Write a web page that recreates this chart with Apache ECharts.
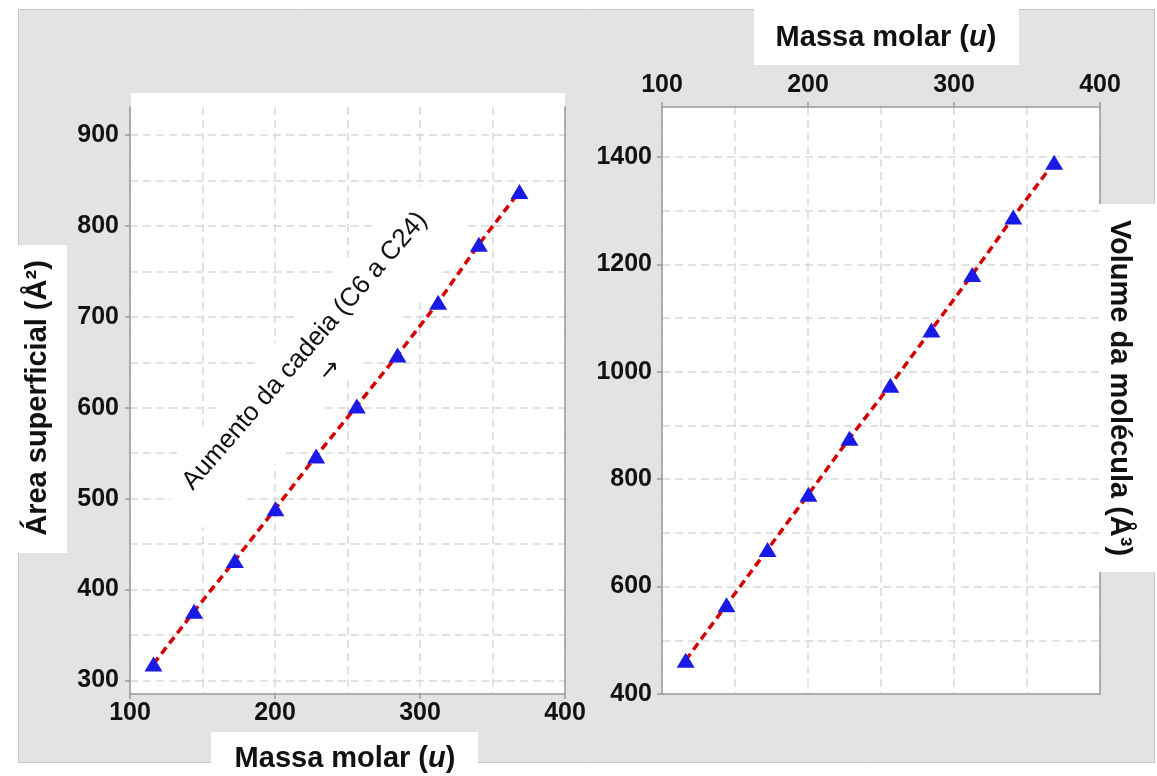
<!DOCTYPE html>
<html>
<head>
<meta charset="utf-8">
<script src="https://cdn.jsdelivr.net/npm/echarts@6/dist/echarts.min.js"></script>
<style>
  html, body { margin: 0; padding: 0; background: #ffffff; }
  #chart { width: 1157px; height: 776px; }
</style>
</head>
<body>
<div id="chart"></div>
<script>
// ---- data ----
const massaMolar = [116.2, 144.2, 172.3, 200.3, 228.4, 256.4, 284.5, 312.5, 340.6, 368.6];
const areaSuperficial = [318, 376, 432, 489, 547, 602, 658, 716, 780, 838];
const volumeMolecula = [463, 566, 669, 772, 876, 975, 1078, 1181, 1288, 1390];

// ---- tick labels / grid values ----
const massaTicks = [100, 200, 300, 400];
const areaTicks = [300, 400, 500, 600, 700, 800, 900];
const areaGrid = [300, 350, 400, 450, 500, 550, 600, 650, 700, 750, 800, 850, 900];
const volumeTicks = [400, 600, 800, 1000, 1200, 1400];
const volumeGrid = [500, 600, 700, 800, 900, 1000, 1100, 1200, 1300, 1400];

const FONT = "'Liberation Sans', Arial, sans-serif";
const TXT = '#111111';
const AXIS = '#9a9a9a';
const GRID = '#d9d9d9';
const RED = '#d40000';
const BLUE = '#1a1ae6';

const plain = v => String(v);
const labelStyle = { fontFamily: FONT, fontWeight: 'bold', fontSize: 25, color: TXT, formatter: plain };
const gridLine = { show: true, lineStyle: { color: GRID, width: 1.5, type: [8, 5] } };
const axisLine = { show: true, onZero: false, lineStyle: { color: AXIS, width: 1.5 } };

const ptsArea = massaMolar.map((m, i) => [m, areaSuperficial[i]]);
const ptsVol = massaMolar.map((m, i) => [m, volumeMolecula[i]]);

const chart = echarts.init(document.getElementById('chart'), null, { renderer: 'canvas' });

const option = {
  backgroundColor: '#ffffff',
  animation: false,
  grid: [
    { left: 130, top: 107, width: 435, height: 587, outerBoundsMode: 'none', containLabel: false },
    { left: 662, top: 107, width: 438, height: 587, outerBoundsMode: 'none', containLabel: false }
  ],
  xAxis: [
    { // left panel, bottom
      gridIndex: 0, type: 'value', position: 'bottom', min: massaTicks[0], max: massaTicks[massaTicks.length - 1], interval: 100,
      axisLine: axisLine,
      axisTick: { show: true, length: 5, lineStyle: { color: AXIS, width: 1.5 } },
      axisLabel: Object.assign({ margin: 7 }, labelStyle),
      splitLine: gridLine,
      minorTick: { show: false, splitNumber: 2 },
      minorSplitLine: gridLine
    },
    { // right panel, top
      gridIndex: 1, type: 'value', position: 'top', min: massaTicks[0], max: massaTicks[massaTicks.length - 1], interval: 100,
      axisLine: axisLine,
      axisTick: { show: true, length: 5, lineStyle: { color: AXIS, width: 1.5 } },
      axisLabel: Object.assign({ margin: 9 }, labelStyle),
      splitLine: gridLine,
      minorTick: { show: false, splitNumber: 2 },
      minorSplitLine: gridLine
    },
    { // right panel, bottom border
      gridIndex: 1, type: 'value', position: 'bottom', min: 100, max: 400,
      axisLine: axisLine, axisTick: { show: false }, axisLabel: { show: false }, splitLine: { show: false }
    }
  ],
  yAxis: [
    { // 0: left panel labels
      gridIndex: 0, type: 'value', position: 'left', min: 285, max: 931,
      axisLine: axisLine,
      axisTick: { show: true, length: 5, customValues: areaTicks, lineStyle: { color: AXIS, width: 1.5 } },
      axisLabel: Object.assign({ margin: 11, customValues: areaTicks }, labelStyle),
      splitLine: { show: false }
    },
    { // 1: left panel grid lines
      gridIndex: 0, type: 'value', position: 'left', min: 285, max: 931,
      axisLine: { show: false },
      axisTick: { show: false, customValues: areaGrid },
      axisLabel: { show: false },
      splitLine: gridLine
    },
    { // 2: left panel right border
      gridIndex: 0, type: 'value', position: 'right', min: 285, max: 931,
      axisLine: axisLine, axisTick: { show: false }, axisLabel: { show: false }, splitLine: { show: false }
    },
    { // 3: right panel labels
      gridIndex: 1, type: 'value', position: 'left', min: 400, max: 1493,
      axisLine: axisLine,
      axisTick: { show: true, length: 5, customValues: volumeTicks, lineStyle: { color: AXIS, width: 1.5 } },
      axisLabel: Object.assign({ margin: 10, customValues: volumeTicks }, labelStyle),
      splitLine: { show: false }
    },
    { // 4: right panel grid lines
      gridIndex: 1, type: 'value', position: 'left', min: 400, max: 1493,
      axisLine: { show: false },
      axisTick: { show: false, customValues: volumeGrid },
      axisLabel: { show: false },
      splitLine: gridLine
    },
    { // 5: right panel right border
      gridIndex: 1, type: 'value', position: 'right', min: 400, max: 1493,
      axisLine: axisLine, axisTick: { show: false }, axisLabel: { show: false }, splitLine: { show: false }
    }
  ],
  series: [
    {
      type: 'line', xAxisIndex: 0, yAxisIndex: 0, data: ptsArea, symbol: 'none', z: 3,
      lineStyle: { color: RED, width: 3.5, type: [8, 5] }
    },
    {
      type: 'scatter', xAxisIndex: 0, yAxisIndex: 0, data: ptsArea, symbol: 'triangle',
      symbolSize: [18, 15], z: 4, itemStyle: { color: BLUE, opacity: 1 }
    },
    {
      type: 'line', xAxisIndex: 1, yAxisIndex: 3, data: ptsVol, symbol: 'none', z: 3,
      lineStyle: { color: RED, width: 3.5, type: [8, 5] }
    },
    {
      type: 'scatter', xAxisIndex: 1, yAxisIndex: 3, data: ptsVol, symbol: 'triangle',
      symbolSize: [18, 15], z: 4, itemStyle: { color: BLUE, opacity: 1 }
    }
  ],
  graphic: [
    // outer grey panel
    { type: 'rect', z: -20, shape: { x: 18.5, y: 9.5, width: 1136, height: 753 },
      style: { fill: '#e3e3e3', stroke: '#c8c8c8', lineWidth: 1 } },
    // white plot backgrounds
    { type: 'rect', z: -10, shape: { x: 131, y: 93, width: 434, height: 601 }, style: { fill: '#ffffff' } },
    { type: 'rect', z: -10, shape: { x: 662, y: 107, width: 438, height: 587 }, style: { fill: '#ffffff' } },
    // annotation
    { type: 'group', x: 305, y: 351, rotation: 49 * Math.PI / 180, z: 1,
      children: [
        { type: 'rect', z: 1, shape: { x: -200, y: -28, width: 400, height: 80 }, style: { fill: '#ffffff' } },
        { type: 'text', z: 1, x: 0, y: 0,
          style: { text: 'Aumento da cadeia (C6 a C24)', fontFamily: FONT, fontSize: 26, fill: TXT,
                   textAlign: 'center', textVerticalAlign: 'middle' } },
        { type: 'text', z: 1, x: 2, y: 32,
          style: { text: '\u2192', fontFamily: "'DejaVu Sans', sans-serif", fontSize: 24, fill: TXT,
                   textAlign: 'center', textVerticalAlign: 'middle' } }
      ] },
    // left y title
    { type: 'rect', z: 5, shape: { x: 0, y: 245, width: 67, height: 308 }, style: { fill: '#ffffff' } },
    { type: 'text', z: 6, x: 38, y: 398, rotation: Math.PI / 2,
      style: { text: 'Área superficial (Å²)', fontFamily: FONT, fontWeight: 'bold', fontSize: 29, fill: TXT,
               textAlign: 'center', textVerticalAlign: 'middle' } },
    // bottom x title
    { type: 'rect', z: 5, shape: { x: 211, y: 732, width: 267, height: 44 }, style: { fill: '#ffffff' } },
    { type: 'text', z: 6, x: 345, y: 759,
      style: { text: 'Massa molar ({i|u})', fontFamily: FONT, fontWeight: 'bold', fontSize: 29, fill: TXT,
               textAlign: 'center', textVerticalAlign: 'middle',
               rich: { i: { fontFamily: FONT, fontWeight: 'bold', fontStyle: 'italic', fontSize: 29, fill: TXT } } } },
    // top x title
    { type: 'rect', z: 5, shape: { x: 754, y: 0, width: 265, height: 65 }, style: { fill: '#ffffff' } },
    { type: 'text', z: 6, x: 886, y: 38,
      style: { text: 'Massa molar ({i|u})', fontFamily: FONT, fontWeight: 'bold', fontSize: 29, fill: TXT,
               textAlign: 'center', textVerticalAlign: 'middle',
               rich: { i: { fontFamily: FONT, fontWeight: 'bold', fontStyle: 'italic', fontSize: 29, fill: TXT } } } },
    // right y title
    { type: 'rect', z: 5, shape: { x: 1099, y: 204, width: 58, height: 368 }, style: { fill: '#ffffff' } },
    { type: 'text', z: 6, x: 1119, y: 388, rotation: -Math.PI / 2,
      style: { text: 'Volume da molécula (Å³)', fontFamily: FONT, fontWeight: 'bold', fontSize: 29, fill: TXT,
               textAlign: 'center', textVerticalAlign: 'middle' } }
  ]
};

chart.setOption(option);
</script>
</body>
</html>
